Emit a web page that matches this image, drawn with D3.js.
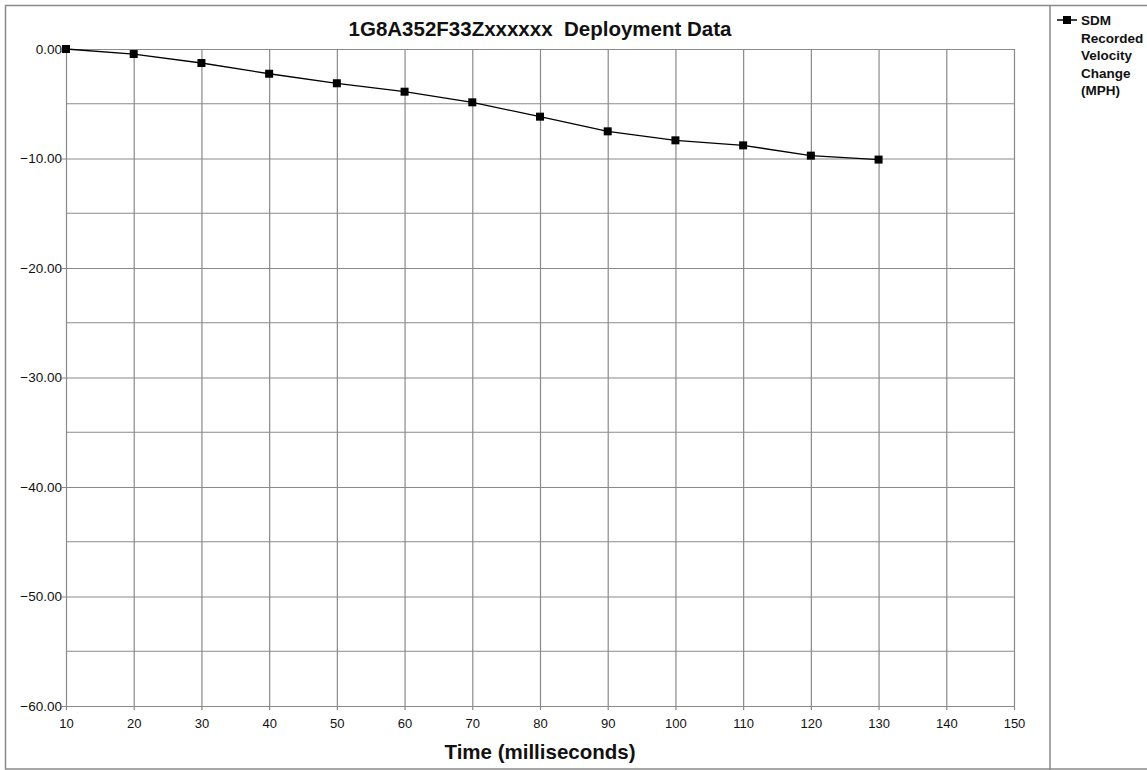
<!DOCTYPE html>
<html>
<head>
<meta charset="utf-8">
<script src="https://cdn.jsdelivr.net/npm/d3@7"></script>
<style>
  body { margin: 0; background: #fff; }
  text { font-family: "Liberation Sans", Arial, sans-serif; }
</style>
</head>
<body>
<div id="chart"></div>
<script>
// data
const timeMs = [10, 20, 30, 40, 50, 60, 70, 80, 90, 100, 110, 120, 130];
const velocityChange = [0, -0.46, -1.28, -2.26, -3.13, -3.9, -4.87, -6.18, -7.52, -8.34, -8.8, -9.74, -10.1];
const xTicks = [10, 20, 30, 40, 50, 60, 70, 80, 90, 100, 110, 120, 130, 140, 150];
const yTicks = [0, -10, -20, -30, -40, -50, -60];
const yMinor = [-5, -15, -25, -35, -45, -55];
const chartTitle = "1G8A352F33Zxxxxxx\u00a0\u00a0Deployment Data";
const xTitle = "Time (milliseconds)";
const legendLines = ["SDM", "Recorded", "Velocity", "Change", "(MPH)"];

const W = 1147, H = 770;
const margin = { top: 49, right: 133, bottom: 64, left: 66 };
const width = W - margin.left - margin.right;
const height = H - margin.top - margin.bottom;
const grid = "#8a8a8a";

const root = d3.select("#chart")
  .append("svg")
  .attr("width", W)
  .attr("height", H);

// outer frame + legend divider
root.append("rect")
  .attr("x", 5.5).attr("y", 5.5)
  .attr("width", W + 10).attr("height", H - 6.5)
  .attr("fill", "#fff")
  .attr("stroke", grid)
  .attr("stroke-width", 1.5);

root.append("line")
  .attr("x1", 1050).attr("x2", 1050)
  .attr("y1", 6).attr("y2", H)
  .attr("stroke", grid)
  .attr("stroke-width", 1.5);

const svg = root.append("g")
  .attr("transform", `translate(${margin.left}, ${margin.top})`);

const xScale = d3.scaleLinear().domain([10, 150]).range([0, width]);
const yScale = d3.scaleLinear().domain([-60, 0]).range([height, 0]);

// minor horizontal grid
svg.append("g")
  .selectAll("line")
  .data(yMinor)
  .join("line")
  .attr("x1", 0).attr("x2", width)
  .attr("y1", (d) => yScale(d)).attr("y2", (d) => yScale(d))
  .attr("stroke", grid)
  .attr("stroke-width", 1.2);

// Y axis with major grid
const yAxis = svg.append("g")
  .call(d3.axisLeft(yScale).tickValues(yTicks).tickSize(-width - 4).tickFormat(d3.format(".2f")).tickPadding(3))
  .attr("transform", "translate(-4,0)");
yAxis.select(".domain").remove();
yAxis.selectAll("line").attr("stroke", grid).attr("stroke-width", 1.2).attr("x2", width + 4);
yAxis.selectAll("text")
  .attr("font-size", "13.5px")
  .attr("fill", "#111")
  .attr("x", 0)
  .attr("font-family", "'Liberation Sans', Arial, sans-serif");

// X axis with vertical grid
const xAxis = svg.append("g")
  .attr("transform", `translate(0, ${height + 4})`)
  .call(d3.axisBottom(xScale).tickValues(xTicks).tickSize(-height - 4).tickPadding(0));
xAxis.select(".domain").remove();
xAxis.selectAll("line").attr("stroke", grid).attr("stroke-width", 1.2);
xAxis.selectAll("text")
  .attr("font-size", "13px")
  .attr("fill", "#111")
  .attr("y", 9)
  .attr("font-family", "'Liberation Sans', Arial, sans-serif");

// series line
const line = d3.line()
  .x((d, i) => xScale(timeMs[i]))
  .y((d) => yScale(d));

svg.append("path")
  .datum(velocityChange)
  .attr("d", line)
  .attr("fill", "none")
  .attr("stroke", "#000")
  .attr("stroke-width", 1.3);

svg.selectAll("rect.pt")
  .data(velocityChange)
  .join("rect")
  .attr("class", "pt")
  .attr("x", (d, i) => xScale(timeMs[i]) - 4)
  .attr("y", (d) => yScale(d) - 4)
  .attr("width", 8)
  .attr("height", 8)
  .attr("fill", "#000");

// titles
root.append("text")
  .attr("x", margin.left + width / 2)
  .attr("y", 36)
  .attr("text-anchor", "middle")
  .attr("font-size", "20.5px")
  .attr("font-weight", "bold")
  .attr("fill", "#111")
  .text(chartTitle);

root.append("text")
  .attr("x", margin.left + width / 2)
  .attr("y", 759)
  .attr("text-anchor", "middle")
  .attr("font-size", "20.5px")
  .attr("font-weight", "bold")
  .attr("fill", "#111")
  .text(xTitle);

// legend
const lg = root.append("g").attr("transform", "translate(1057, 20)");
lg.append("line")
  .attr("x1", 0).attr("x2", 20)
  .attr("y1", 0).attr("y2", 0)
  .attr("stroke", "#000")
  .attr("stroke-width", 1.5);
lg.append("rect")
  .attr("x", 6).attr("y", -4)
  .attr("width", 8).attr("height", 8)
  .attr("fill", "#000");
lg.append("text")
  .attr("x", 24)
  .attr("y", 5)
  .attr("font-size", "13.5px")
  .attr("font-weight", "bold")
  .attr("fill", "#111")
  .selectAll("tspan")
  .data(legendLines)
  .join("tspan")
  .attr("x", 24)
  .attr("dy", (d, i) => (i === 0 ? 0 : 17.5))
  .text((d) => d);
</script>
</body>
</html>
